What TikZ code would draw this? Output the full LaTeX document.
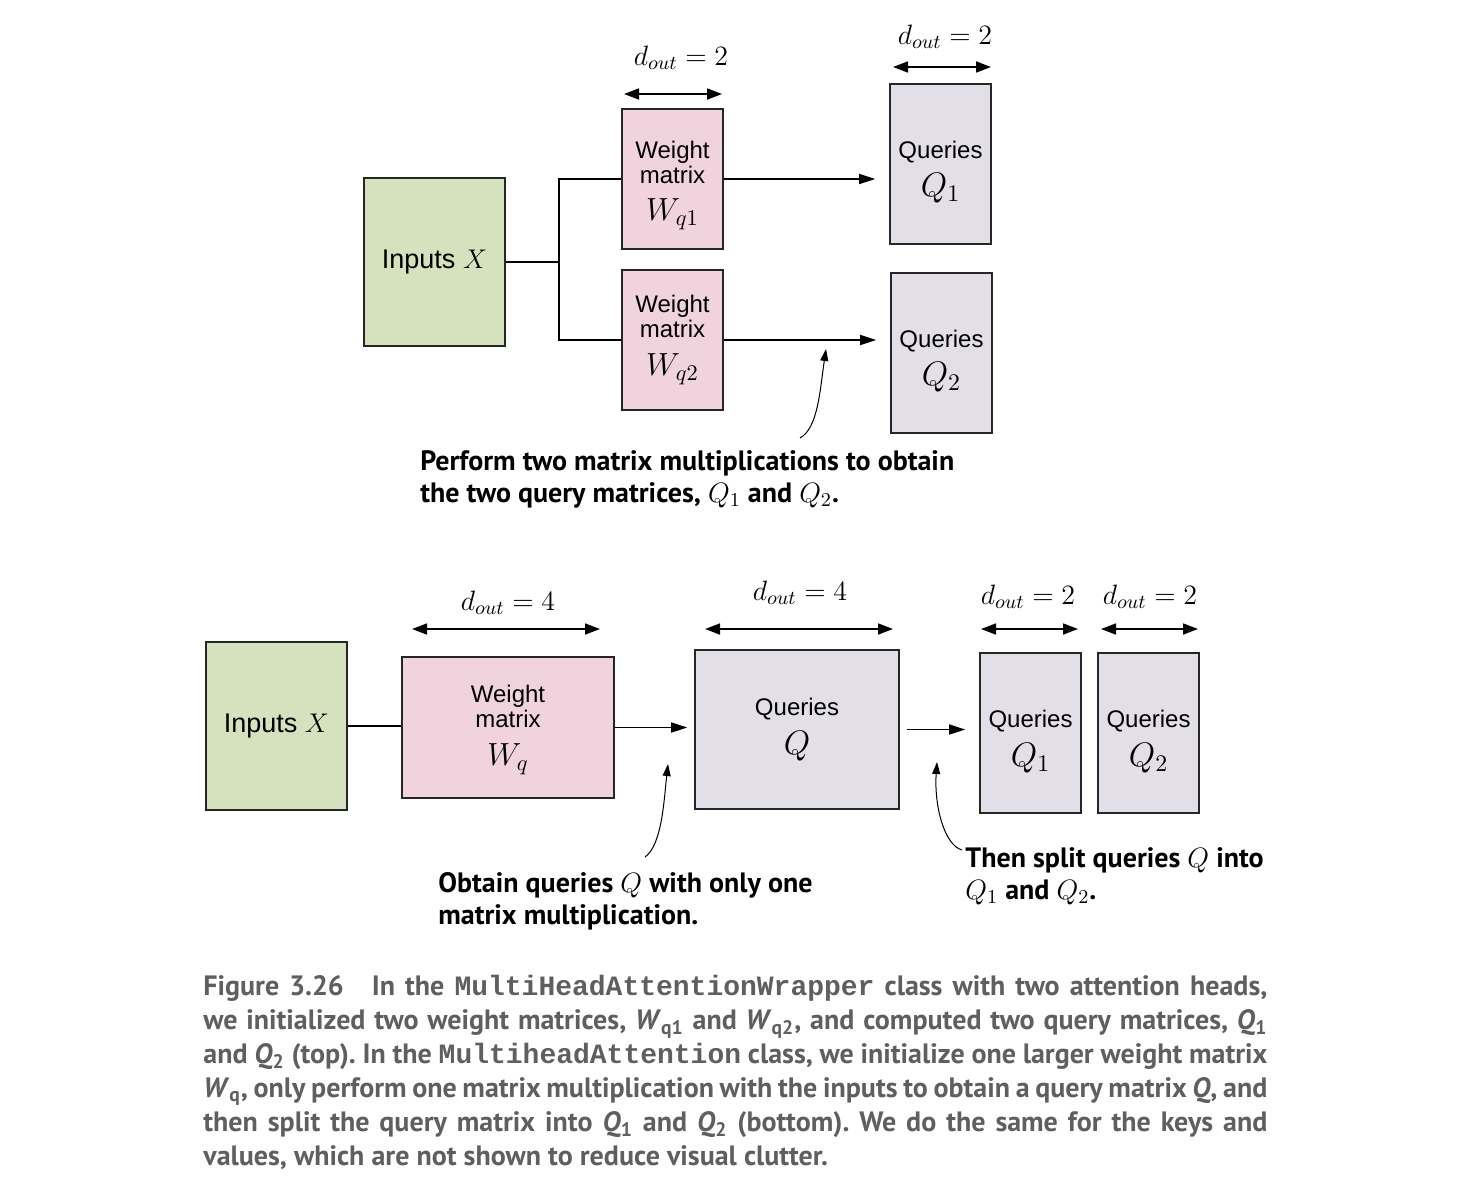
\RequirePackage{fix-cm}
\documentclass[tikz,border=0pt]{standalone}
\usepackage[no-math]{fontspec}
\setmainfont{Liberation Sans}
\setmonofont{Liberation Mono}
\newfontfamily\notefont{PT Sans}
\newfontfamily\capfont{PT Sans}
\usetikzlibrary{arrows.meta,positioning}
\definecolor{ingreen}{RGB}{214,226,189}
\definecolor{wpink}{RGB}{240,211,221}
\definecolor{qlilac}{RGB}{227,223,232}
\definecolor{capgray}{RGB}{95,95,95}
\frenchspacing

\begin{document}
\begin{tikzpicture}[x=0.5pt,y=-0.5pt,>={Triangle[length=8pt,width=5pt]},
  every node/.style={font=\fontsize{12}{12.5}\selectfont},
  box/.style={draw=black!85,line width=0.8pt,align=center,inner sep=2pt},
  inbox/.style={box,fill=ingreen,minimum width=70.5pt,minimum height=84pt,
    font=\fontsize{13.5}{15}\selectfont},
  wbox/.style={box,fill=wpink},
  qbox/.style={box,fill=qlilac,minimum width=50.5pt,minimum height=80pt},
  dim/.style={<->,>={Triangle[length=7.5pt,width=5.5pt]},line width=0.8pt},
  dlab/.style={font=\fontsize{14}{14}\selectfont,inner sep=1pt},
  line/.style={line width=0.8pt},
  note/.style={font=\notefont\bfseries\fontsize{14}{16}\selectfont,
    align=left,inner sep=0pt},
  call/.style={->,>={Triangle[length=6pt,width=4pt]},line width=0.5pt},
  capt/.style={font=\capfont\bfseries\fontsize{14}{17}\selectfont,
    text=capgray,text width=532pt,align=justify,inner sep=0pt}]
\useasboundingbox (0,0) rectangle (1470,1194);

% top: two weight matrices
\node[inbox] (inA) at (434.5,262) {Inputs $X$};
\node[wbox,minimum width=50.5pt,minimum height=70pt] (wa) at (672.5,179)
  {\rule{0pt}{15pt}Weight\\matrix\\[6pt]{\fontsize{16}{16}\selectfont$W_{q1}$}};
\node[wbox,minimum width=50.5pt,minimum height=70pt] (wb) at (672.5,340)
  {Weight\\matrix\\[6.5pt]{\fontsize{16}{16}\selectfont$W_{q2}$}};
\node[qbox] (qa) at (940.5,164)
  {\rule{0pt}{17pt}Queries\\[4pt]{\fontsize{17}{17}\selectfont$Q_1$}};
\node[qbox] (qb) at (941.5,353)
  {\rule{0pt}{17pt}Queries\\[4pt]{\fontsize{17}{17}\selectfont$Q_2$}};
\coordinate (fork) at (559,262);
\draw[line] (inA.east) -- (fork) |- (wa.west);
\draw[line] (fork) |- (wb.west);
\draw[line,->,shorten >=7pt] (wa.east) -- (wa.east -| qa.west);
\draw[line,->,shorten >=7pt] (wb.east) -- (wb.east -| qb.west);

\node[dlab] (dwa) at (681,58) {$d_{out} = 2$};
\coordinate (wa1) at (624,94);
\coordinate (wa2) at (722,94);
\draw[dim] (wa1) -- (wa2);
\node[dlab] (dqa) at (945,37) {$d_{out} = 2$};
\coordinate (qa1) at (893,67);
\coordinate (qa2) at (991,67);
\draw[dim] (qa1) -- (qa2);

\node[note,anchor=west] (noteA) at (420,479)
  {Perform two matrix multiplications to obtain\\
   the two query matrices, $Q_1$ and $Q_2$.};
\coordinate (ca0) at (800,438);
\coordinate (ca1) at (826,349);
\draw[call] (ca0) .. controls (818,428) and (820,390) .. (ca1);

% bottom: one larger weight matrix, then split
\node[inbox] (inB) at (276.5,726) {Inputs $X$};
\node[wbox,minimum width=106pt,minimum height=70.5pt] (wq) at (508,727.5)
  {\rule{0pt}{11pt}Weight\\matrix\\[6.5pt]{\fontsize{16}{16}\selectfont$W_q$}};
\node[qbox,minimum width=102pt,minimum height=79.5pt] (qq) at (797,729.5)
  {Queries\\[5pt]{\fontsize{17}{17}\selectfont$Q$}};
\node[qbox] (qc) at (1030.5,733)
  {\rule{0pt}{17pt}Queries\\[4.5pt]{\fontsize{17}{17}\selectfont$Q_1$}};
\node[qbox] (qd) at (1148.5,733)
  {\rule{0pt}{17pt}Queries\\[4.5pt]{\fontsize{17}{17}\selectfont$Q_2$}};
\draw[line] (inB.east) -- (inB.east -| wq.west);
\draw[line,->,shorten >=3.5pt] (wq.east) -- (wq.east -| qq.west);
\draw[line,->,shorten <=3.5pt,shorten >=7pt] (qq.east) -- (qq.east -| qc.west);

\node[dlab] (dwq) at (508,603) {$d_{out} = 4$};
\coordinate (wq1) at (412,629);
\coordinate (wq2) at (600,629);
\draw[dim] (wq1) -- (wq2);
\node[dlab] (dqq) at (800,593) {$d_{out} = 4$};
\coordinate (qq1) at (705,629);
\coordinate (qq2) at (893,629);
\draw[dim] (qq1) -- (qq2);
\node[dlab] (dqc) at (1028,597) {$d_{out} = 2$};
\coordinate (qc1) at (981,629);
\coordinate (qc2) at (1078,629);
\draw[dim] (qc1) -- (qc2);
\node[dlab] (dqd) at (1150,597) {$d_{out} = 2$};
\coordinate (qd1) at (1101,629);
\coordinate (qd2) at (1198,629);
\draw[dim] (qd1) -- (qd2);

\node[note,anchor=west] (noteB) at (438,901)
  {Obtain queries $Q$ with only one\\matrix multiplication.};
\coordinate (cb0) at (645,857);
\coordinate (cb1) at (668,764);
\draw[call] (cb0) .. controls (662,845) and (664,800) .. (cb1);
\node[note,anchor=west] (noteC) at (965,876)
  {Then split queries $Q$ into\\$Q_1$ and $Q_2$.};
\coordinate (cc0) at (962,850);
\coordinate (cc1) at (937,762);
\draw[call] (cc0) .. controls (944,845) and (934,805) .. (cc1);

\node[capt,anchor=north west] (cap) at (203,975)
  {Figure 3.26\quad In the {\ttfamily MultiHeadAttentionWrapper} class with two attention heads,\linebreak
   we initialized two weight matrices, \textit{W}\textsubscript{q1} and \textit{W}\textsubscript{q2}, and computed two query matrices, \textit{Q}\textsubscript{1}\linebreak
   and \textit{Q}\textsubscript{2} (top). In the {\ttfamily MultiheadAttention} class, we initialize one larger weight matrix\linebreak
   \textit{W}\textsubscript{q}, only perform one matrix multiplication with the inputs to obtain a query matrix \textit{Q}, and\linebreak
   then split the query matrix into \textit{Q}\textsubscript{1} and \textit{Q}\textsubscript{2} (bottom). We do the same for the keys and\linebreak
   values, which are not shown to reduce visual clutter.};
\end{tikzpicture}
\end{document}
